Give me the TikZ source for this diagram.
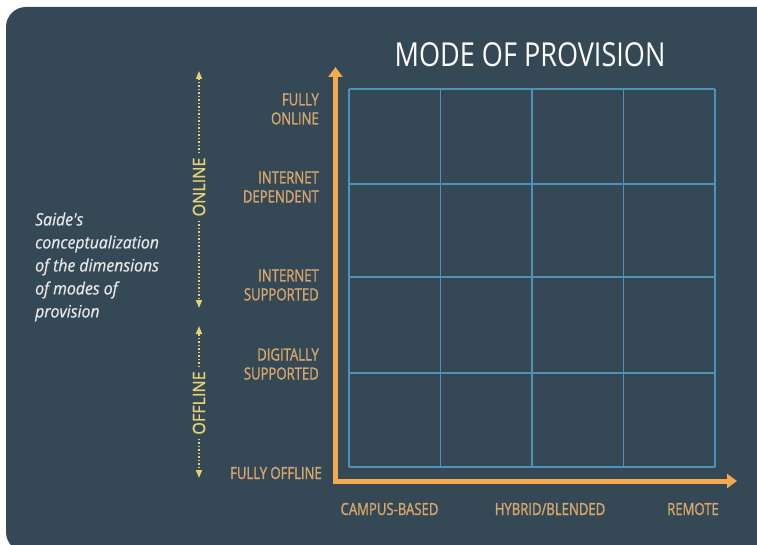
\documentclass[tikz,border=0pt]{standalone}
\usepackage{fontspec}
\setmainfont{Open Sans}
\newfontfamily\titlefont{Open Sans}[FakeStretch=0.82]
\newfontfamily\labelfont{Open Sans}[FakeStretch=0.78,FakeBold=1.2]
\newfontfamily\dimfont{Open Sans}[FakeStretch=0.95,FakeBold=1.2]
\newfontfamily\notefont{Open Sans}[FakeStretch=0.93,FakeBold=0.6]
\usetikzlibrary{arrows.meta}
\definecolor{bg}{RGB}{52,72,86}
\definecolor{axisc}{RGB}{245,170,80}
\definecolor{lab}{RGB}{214,166,108}
\definecolor{dimc}{RGB}{230,210,112}
\definecolor{gridc}{RGB}{78,145,185}
\definecolor{notec}{RGB}{232,232,232}
\begin{document}
\begin{tikzpicture}[x=1pt,y=-1pt,
  lbl/.style={text=lab,font=\labelfont\fontsize{16.8}{19}\selectfont,align=right,anchor=east,inner sep=0pt},
  xlbl/.style={text=lab,font=\labelfont\fontsize{16.8}{19}\selectfont,anchor=center,inner sep=0pt},
  dimlbl/.style={text=dimc,font=\dimfont\fontsize{17}{18}\selectfont,rotate=90,inner sep=4pt,anchor=center},
  dotarrow/.style={dimc,line width=1.5pt,dash pattern=on 1.5pt off 2pt,-{Triangle[width=6pt,length=8pt]}},
  axisline/.style={axisc,line width=5pt,line join=miter,{Triangle[width=14pt,length=10pt]}-{Triangle[width=14pt,length=10pt]}},
  gridline/.style={gridc,line width=1.3pt}]
\useasboundingbox (0,0) rectangle (757,545);
\fill[white] (0,0) rectangle (757,545);
\fill[bg,rounded corners=20pt] (6,7) rectangle (790,552);
% title
\node[text=white,font=\titlefont\fontsize{33}{36}\selectfont,inner sep=0pt] (title) at (530,55) {MODE OF PROVISION};
% grid
\foreach \x in {349,440.5,532,623.5,715}
  \draw[gridline] (\x,89) -- (\x,467);
\foreach \y in {89,184,277,373,467}
  \draw[gridline] (349,\y) -- (715,\y);
% axes
\coordinate (ytip) at (335.5,67);
\coordinate (orig) at (335.5,481);
\coordinate (xtip) at (737,481);
\draw[axisline] (ytip) -- (orig) -- (xtip);
% y labels
\node[lbl] (fo) at (319,109) {FULLY\\ONLINE};
\node[lbl] (id) at (319,187) {INTERNET\\DEPENDENT};
\node[lbl] (is) at (319,285) {INTERNET\\SUPPORTED};
\node[lbl] (ds) at (319,364) {DIGITALLY\\SUPPORTED};
\node[lbl] (foff) at (322,473) {FULLY OFFLINE};
% x labels
\node[xlbl] (cb) at (389.5,509) {CAMPUS-BASED};
\node[xlbl] (hb) at (550,509) {HYBRID/BLENDED};
\node[xlbl] (rm) at (693,509) {REMOTE};
% dimension labels
\node[dimlbl] (online) at (199,187) {ONLINE};
\node[dimlbl] (offline) at (199,403) {OFFLINE};
\coordinate (ontop) at (199,71);
\coordinate (onbot) at (199,308);
\coordinate (offtop) at (199,326);
\coordinate (offbot) at (199,478);
\draw[dotarrow] (online.east) -- (ontop);
\draw[dotarrow] (online.west) -- (onbot);
\draw[dotarrow] (offline.east) -- (offtop);
\draw[dotarrow] (offline.west) -- (offbot);
% note
\node[text=notec,font=\notefont\itshape\fontsize{17}{23}\selectfont,align=left,anchor=west,inner sep=0pt] (note) at (35,267) {Saide's\\conceptualization\\of the dimensions\\of modes of\\provision};
\end{tikzpicture}
\end{document}
